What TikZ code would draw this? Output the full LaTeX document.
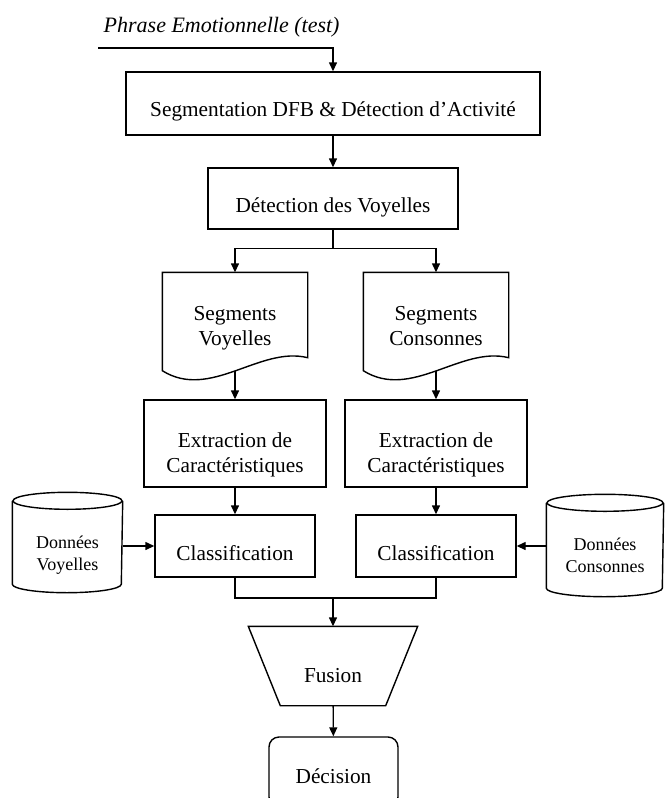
\documentclass[tikz,border=0pt]{standalone}
\usepackage{fontspec}
\setmainfont{Liberation Serif}
\usetikzlibrary{arrows.meta, calc}
% text of a box, set a little low as in the original
\newcommand{\boxtext}[2][9]{\raisebox{-#1pt}[\height][\depth]{\begin{tabular}{@{}c@{}}#2\end{tabular}}}
\tikzset{
>={Triangle[length=9pt,width=8pt]},
box/.style={%
    rectangle,
    inner sep=0pt,
    draw=black,
    font=\fontsize{21.3}{25}\selectfont
},
blank/.style={%
    box, draw=none
},
small/.style={%
    blank, font=\fontsize{18}{22}\selectfont
},
}

\begin{document}
\begin{tikzpicture}[x=1pt, y=-1pt, line width=1.4pt]
	\useasboundingbox (0,0) rectangle (665,798);
	\clip (0,0) rectangle (665,798);

	\coordinate (in) at (98,48);
	\node[anchor=west, inner sep=0pt, font=\fontsize{22}{26}\selectfont\itshape] (title) at (103,27) {Phrase Emotionnelle (test)};
	\node[box, minimum width=414pt, minimum height=63pt] (seg) at (333,103.5) {\boxtext[8]{Segmentation DFB \& Détection d'Activité}};
	\node[box, minimum width=250pt, minimum height=61pt] (det) at (333,198.5) {\boxtext[9]{Détection des Voyelles}};

	\node[blank, minimum width=144pt, minimum height=97pt] (sv) at (235,321.5) {\boxtext[6]{Segments\\Voyelles}};
	\node[blank, minimum width=144pt, minimum height=97pt] (sc) at (436,321.5) {\boxtext[6]{Segments\\Consonnes}};

	\node[box, minimum width=182pt, minimum height=87pt] (ev) at (235,443.5) {\boxtext[11]{Extraction de\\Caractéristiques}};
	\node[box, minimum width=182pt, minimum height=87pt] (ec) at (436,443.5) {\boxtext[11]{Extraction de\\Caractéristiques}};

	\node[box, minimum width=160pt, minimum height=62pt] (cv) at (235,546) {\boxtext{Classification}};
	\node[box, minimum width=160pt, minimum height=62pt] (cc) at (436,546) {\boxtext{Classification}};

	\node[small, minimum width=109pt, minimum height=82pt] (dv) at (67.5,542.5) {\boxtext[13]{Données\\Voyelles}};
	\node[small, minimum width=116pt, minimum height=84pt] (dc) at (605,545.5) {\boxtext[12]{Données\\Consonnes}};

	\coordinate (m) at (333,598);
	\node[blank, minimum width=168pt, minimum height=78pt] (fu) at (333,666) {\boxtext[11]{Fusion}};
	\node[box, rounded corners=10pt, minimum width=129pt, minimum height=70pt] (dec) at (333.5,772) {\boxtext[6]{Décision}};

	% outlines
	\foreach \n in {sv,sc}
		\draw (\n.south west) -- (\n.north west) -- (\n.north east) -- ($(\n.south east)+(0,-13)$)
			.. controls +(-48,-12) and +(48,30) .. (\n.south west) -- cycle;
	\foreach \n/\r in {dv/54.5,dc/58}{
		\draw (\n.north west) -- (\n.south west)
			arc[start angle=180, end angle=360, x radius=\r pt, y radius=8.5pt] -- (\n.north east);
		\draw (\n.north) ellipse [x radius=\r pt, y radius=8.5pt];
	}
	\draw (fu.north west) -- (fu.north east) -- ($(fu.south east)+(-32,0)$) -- ($(fu.south west)+(32,0)$) -- cycle;

	% connectors
	\draw[->] (in) -| (seg);
	\draw[->] (seg) -- (det);
	\draw[->] (det.south) -- ++(0,19) -| (sv.north);
	\draw[->] (det.south) -- ++(0,19) -| (sc.north);
	\draw[->] (sv) -- (ev);
	\draw[->] (sc) -- (ec);
	\draw[->] (ev) -- (cv);
	\draw[->] (ec) -- (cc);
	\draw[->] (dv.east |- cv.west) -- (cv.west);
	\draw[->] (dc.west |- cc.east) -- (cc.east);
	\draw (cv) |- (m) -| (cc);
	\draw[->] (m) -- (fu);
	\draw[->] (fu) -- (dec);
\end{tikzpicture}
\end{document}
